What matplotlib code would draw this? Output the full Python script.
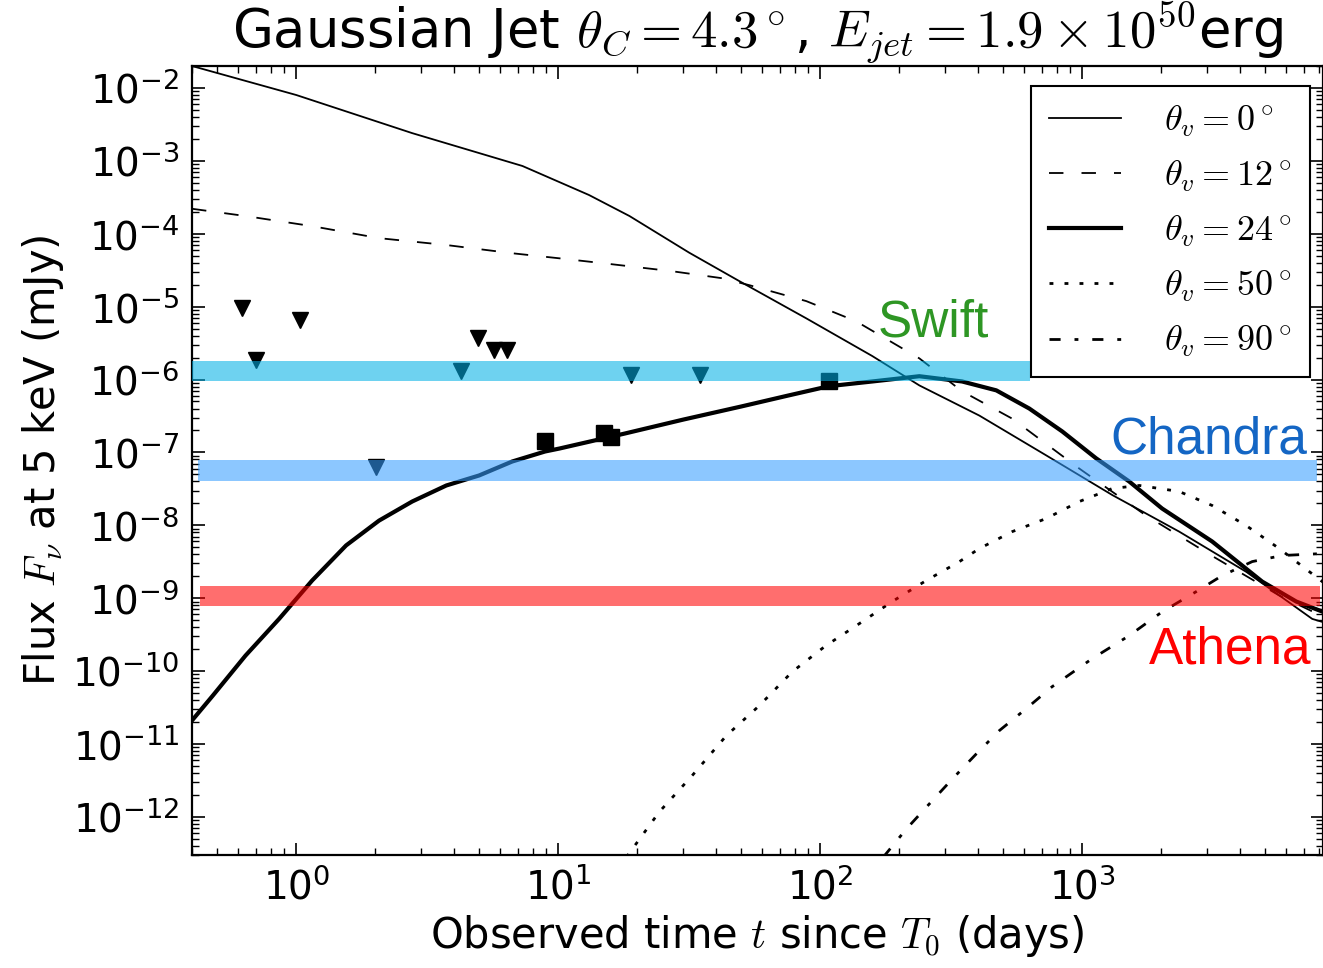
import numpy as np
import matplotlib
matplotlib.use("Agg")
import matplotlib.pyplot as plt
from matplotlib.ticker import LogLocator, NullFormatter

plt.rcParams["mathtext.fontset"] = "cm"
plt.rcParams["axes.unicode_minus"] = False

# ---- data ----
# light curves, t in days, flux in mJy
t_v0 = [0.40, 1.0, 2.77, 7.3, 13.1, 18.7, 31.6, 49.1, 88.5, 158, 239, 405, 729, 1303, 2344, 4227, 7551, 8300]
f_v0 = [2.0e-2, 8.0e-3, 2.4e-3, 8.5e-4, 3.4e-4, 1.75e-4, 5.5e-5, 2.24e-5, 6.9e-6, 2.1e-6, 8.3e-7,
        3.2e-7, 9.1e-8, 2.6e-8, 8.2e-9, 2.3e-9, 5.2e-10, 4.7e-10]

t_v12 = [0.40, 0.64, 1.15, 2.07, 3.74, 6.67, 10.1, 15.2, 27.2, 42.3, 53.6, 88.5, 137, 239, 348, 541,
         975, 1754, 3133, 5649, 8300]
f_v12 = [2.2e-4, 1.75e-4, 1.27e-4, 8.7e-5, 7.0e-5, 5.4e-5, 4.6e-5, 3.9e-5, 3.06e-5, 2.45e-5, 1.97e-5,
         1.19e-5, 6.3e-6, 1.95e-6, 6.9e-7, 2.9e-7, 6.0e-8, 1.36e-8, 3.8e-9, 1.09e-9, 5.6e-10]

t_v24 = [0.40, 0.48, 0.64, 0.86, 1.15, 1.55, 2.07, 2.77, 3.74, 4.99, 6.67, 8.91, 10.1, 18.0, 30.0,
         50.0, 75.0, 108, 158, 239, 348, 470, 628, 839, 1130, 1510, 2018, 3133, 4864, 6561, 8300]
f_v24 = [2.1e-11, 4.6e-11, 1.63e-10, 5.2e-10, 1.75e-9, 5.3e-9, 1.16e-8, 2.12e-8, 3.52e-8, 4.83e-8,
         7.5e-8, 1.03e-7, 1.13e-7, 1.82e-7, 2.82e-7, 4.27e-7, 6.0e-7, 8.1e-7, 9.4e-7, 1.11e-6, 9.4e-7,
         7.1e-7, 4.0e-7, 1.94e-7, 8.3e-8, 4.0e-8, 1.7e-8, 6.0e-9, 1.69e-9, 9.0e-10, 6.5e-10]

t_v50 = [18.2, 24.3, 32.4, 43.8, 58.5, 78.2, 105, 141, 188, 254, 340, 405, 541, 729, 975, 1303, 1652,
         2344, 3133, 4227, 5649, 8300]
f_v50 = [2.8e-13, 1.17e-12, 3.66e-12, 1.30e-11, 3.35e-11, 9.8e-11, 2.23e-10, 4.48e-10, 8.97e-10,
         1.75e-9, 3.18e-9, 4.8e-9, 8.2e-9, 1.24e-8, 2.12e-8, 3.2e-8, 3.52e-8, 2.91e-8, 1.87e-8,
         9.9e-9, 4.8e-9, 1.66e-9]

t_v90 = [174, 213, 261, 319, 394, 482, 611, 767, 1091, 1510, 2018, 2723, 3420, 4457, 5794, 8300]
f_v90 = [2.8e-13, 6.8e-13, 1.51e-12, 3.3e-12, 7.3e-12, 1.52e-11, 3.05e-11, 6.1e-11, 1.48e-10,
         3.06e-10, 6.5e-10, 1.23e-9, 2.04e-9, 3.18e-9, 3.85e-9, 4.1e-9]

# observations
t_ul = [0.62, 0.70, 1.03, 2.01, 4.26, 4.95, 5.69, 6.39, 19.0, 34.8]
f_ul = [9.5e-6, 1.85e-6, 6.6e-6, 6.4e-8, 1.30e-6, 3.7e-6, 2.54e-6, 2.54e-6, 1.15e-6, 1.15e-6]
t_det = [8.9, 14.9, 15.9, 108]
f_det = [1.42e-7, 1.82e-7, 1.61e-7, 9.4e-7]

# sensitivity bands
band_names = ["Swift", "Chandra", "Athena"]
band_t0 = [0.40, 0.42, 0.43]
band_t1 = [633, 7900, 8050]
band_lo = [9.4e-7, 4.0e-8, 7.9e-10]
band_hi = [1.78e-6, 7.8e-8, 1.49e-9]

# ---- figure ----
fig = plt.figure(figsize=(13.23, 9.68), dpi=100)
ax = fig.add_axes([192 / 1323, 1 - 855 / 968, 1 - 192 / 1323, (855 - 66) / 968])
ax.set_xscale("log")
ax.set_yscale("log")

ax.plot(t_v0, f_v0, color="k", lw=1.3, label=r"$\theta_v=0^\circ$", zorder=3)
ax.plot(t_v12, f_v12, color="k", lw=1.3, dashes=(8, 10), label=r"$\theta_v=12^\circ$", zorder=3)
ax.plot(t_v24, f_v24, color="k", lw=3.0, label=r"$\theta_v=24^\circ$", zorder=3)
ax.plot(t_v50, f_v50, color="k", lw=2.0, dashes=(1.4, 4.0), label=r"$\theta_v=50^\circ$", zorder=3)
ax.plot(t_v90, f_v90, color="k", lw=2.0, dashes=(4, 5, 1.4, 5), label=r"$\theta_v=90^\circ$", zorder=3)

ax.plot(t_ul, f_ul, "v", color="k", ms=12, ls="none", zorder=2)
ax.plot(t_det, f_det, "s", color="k", ms=11, ls="none", zorder=2)

band_cols = [(0.0, 0.69, 0.9), (0.21, 0.62, 1.0), (1.0, 0.0, 0.0)]
for i in range(len(band_names)):
    ax.fill_between([band_t0[i], band_t1[i]], band_lo[i], band_hi[i], color=band_cols[i],
                    alpha=0.57, lw=0, zorder=5)

lab_kw = dict(fontsize=37, family="Liberation Sans", ha="right", va="baseline", zorder=6)
ax.text(442, 3.9e-6, "Swift", color="#2E9624", **lab_kw)
ax.text(7250, 9.7e-8, "Chandra", color="#1466C4", **lab_kw)
ax.text(7500, 1.26e-10, "Athena", color="#FF0000", **lab_kw)

ax.set_xlim(0.4, 8300)
ax.set_ylim(3e-13, 2e-2)

ax.yaxis.set_major_locator(LogLocator(base=10, numticks=30))
ax.yaxis.set_minor_locator(LogLocator(base=10, subs=np.arange(2, 10), numticks=200))
ax.yaxis.set_minor_formatter(NullFormatter())
ax.xaxis.set_minor_locator(LogLocator(base=10, subs=np.arange(2, 10), numticks=200))
ax.xaxis.set_minor_formatter(NullFormatter())
ax.tick_params(which="both", direction="in", top=True, right=True, labelsize=28, pad=9)
ax.tick_params(which="major", length=9, width=1.2)
ax.tick_params(which="minor", length=5, width=1.0)
for s in ax.spines.values():
    s.set_linewidth(1.6)

ax.set_xlabel(r"Observed time $t$ since $T_0$ (days)", fontsize=30, labelpad=4)
ax.set_ylabel(r"Flux $F_\nu$ at 5 keV (mJy)", fontsize=30, labelpad=4)
ax.set_title(r"Gaussian Jet $\theta_C = 4.3^\circ$, $E_{jet} = 1.9\times10^{50}$erg", fontsize=38, pad=4)

leg = ax.legend(loc="upper right", bbox_to_anchor=(1310 / 1323, 1 - 86 / 968),
                bbox_transform=fig.transFigure, borderaxespad=0, fontsize=26, fancybox=False,
                framealpha=1, edgecolor="k", handlelength=2.0, handletextpad=1.2,
                labelspacing=0.55, borderpad=0.5)
leg.get_frame().set_linewidth(1.5)
leg.set_zorder(10)

fig.savefig("out.png", dpi=100)
